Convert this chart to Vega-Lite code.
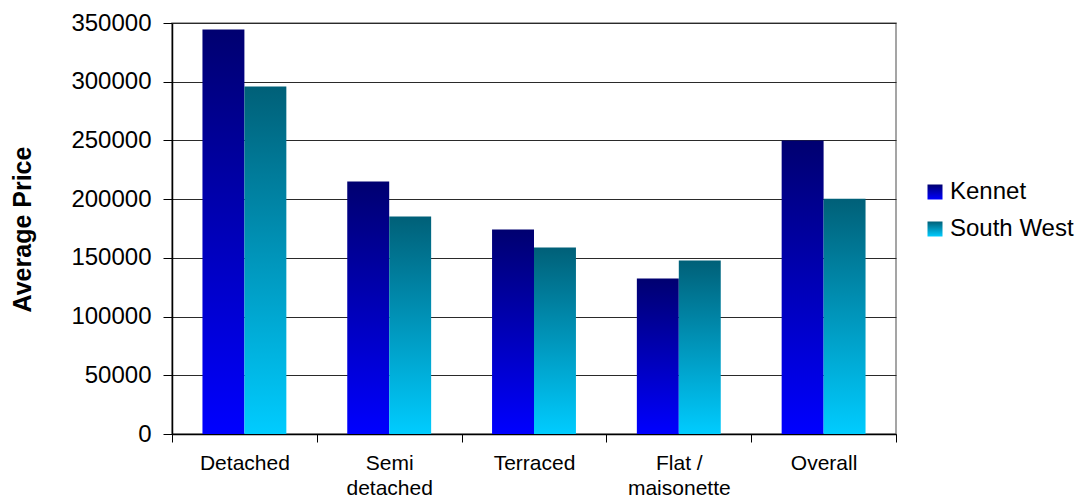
{
  "$schema": "https://vega.github.io/schema/vega-lite/v6.json",
  "autosize": "none",
  "width": 724,
  "height": 411,
  "padding": {"left": 172, "top": 23, "right": 192, "bottom": 66},
  "background": "white",
  "config": {
    "font": "Liberation Sans",
    "view": {"stroke": "#888888", "strokeWidth": 1.5}
  },
  "data": {
    "values": [
      {"type": "Detached", "region": "Kennet", "price": 344500},
      {"type": "Detached", "region": "South West", "price": 296000},
      {"type": "Semi detached", "region": "Kennet", "price": 215000},
      {"type": "Semi detached", "region": "South West", "price": 185200},
      {"type": "Terraced", "region": "Kennet", "price": 174200},
      {"type": "Terraced", "region": "South West", "price": 158800},
      {"type": "Flat / maisonette", "region": "Kennet", "price": 132400},
      {"type": "Flat / maisonette", "region": "South West", "price": 147800},
      {"type": "Overall", "region": "Kennet", "price": 250000},
      {"type": "Overall", "region": "South West", "price": 200400}
    ]
  },
  "encoding": {
    "x": {
      "field": "type",
      "type": "nominal",
      "sort": null,
      "scale": {"paddingInner": 0, "paddingOuter": 0},
      "axis": {
        "title": null,
        "labelAngle": 0,
        "labelFontSize": 21,
        "labelColor": "#000000",
        "labelPadding": 10,
        "labelLineHeight": 25,
        "labelBaseline": "top",
        "labelExpr": "datum.label === 'Semi detached' ? ['Semi', 'detached'] : datum.label === 'Flat / maisonette' ? ['Flat /', 'maisonette'] : datum.label",
        "tickBand": "extent",
        "tickSize": 8,
        "tickColor": "#000000",
        "tickWidth": 1,
        "domainColor": "#000000",
        "domainWidth": 1.5,
        "grid": false
      }
    },
    "xOffset": {
      "field": "region",
      "type": "nominal",
      "scale": {"domain": ["Kennet", "South West"], "paddingInner": 0, "paddingOuter": 0.726}
    },
    "y": {
      "field": "price",
      "type": "quantitative",
      "scale": {"domain": [0, 350000], "nice": false},
      "axis": {
        "title": "Average Price",
        "titleFontSize": 25,
        "titleFontWeight": "bold",
        "titleColor": "#000000",
        "titleAngle": 270,
        "titleX": -150,
        "titleY": 206,
        "titleAlign": "center",
        "titleBaseline": "middle",
        "values": [0, 50000, 100000, 150000, 200000, 250000, 300000, 350000],
        "format": "d",
        "labelFontSize": 24,
        "labelColor": "#000000",
        "labelPadding": 12,
        "tickSize": 9,
        "tickColor": "#000000",
        "tickWidth": 1,
        "domainColor": "#000000",
        "domainWidth": 1.5,
        "grid": true,
        "gridColor": "#2a2a2a",
        "gridWidth": 1.2
      }
    }
  },
  "layer": [
    {
      "mark": {"type": "bar", "strokeWidth": 0},
      "encoding": {
        "fill": {
          "condition": {
            "test": "datum.region === 'Kennet'",
            "value": {"gradient": "linear", "x1": 0, "y1": 0, "x2": 0, "y2": 1,
                      "stops": [{"offset": 0, "color": "#000070"}, {"offset": 1, "color": "#0000ff"}]}
          },
          "value": {"gradient": "linear", "x1": 0, "y1": 0, "x2": 0, "y2": 1,
                    "stops": [{"offset": 0, "color": "#006078"}, {"offset": 1, "color": "#00ccff"}]}
        }
      }
    },
    {
      "transform": [{"filter": "datum.region === 'Kennet'"}],
      "mark": {
        "type": "point",
        "filled": true,
        "opacity": 0,
        "fill": {"gradient": "linear", "x1": 0, "y1": 0, "x2": 0, "y2": 1,
                 "stops": [{"offset": 0, "color": "#000070"}, {"offset": 1, "color": "#0000ff"}]}
      },
      "encoding": {
        "shape": {
          "field": "region",
          "type": "nominal",
          "scale": {"domain": ["Kennet"], "range": ["square"]},
          "legend": {
            "title": null,
            "orient": "none",
            "legendX": 751,
            "legendY": 157,
            "symbolSize": 225,
            "symbolStrokeWidth": 0,
            "symbolOpacity": 1,
            "labelFontSize": 24,
            "labelColor": "#000000",
            "labelOffset": 3
          }
        }
      }
    },
    {
      "transform": [{"filter": "datum.region === 'South West'"}],
      "mark": {
        "type": "point",
        "filled": true,
        "opacity": 0,
        "fill": {"gradient": "linear", "x1": 0, "y1": 0, "x2": 0, "y2": 1,
                 "stops": [{"offset": 0, "color": "#006078"}, {"offset": 1, "color": "#00ccff"}]}
      },
      "encoding": {
        "shape": {
          "field": "region",
          "type": "nominal",
          "scale": {"domain": ["South West"], "range": ["square"]},
          "legend": {
            "title": null,
            "orient": "none",
            "legendX": 751,
            "legendY": 194,
            "symbolSize": 225,
            "symbolStrokeWidth": 0,
            "symbolOpacity": 1,
            "labelFontSize": 24,
            "labelColor": "#000000",
            "labelOffset": 3
          }
        }
      }
    }
  ],
  "resolve": {"scale": {"shape": "independent"}, "legend": {"shape": "independent"}}
}
